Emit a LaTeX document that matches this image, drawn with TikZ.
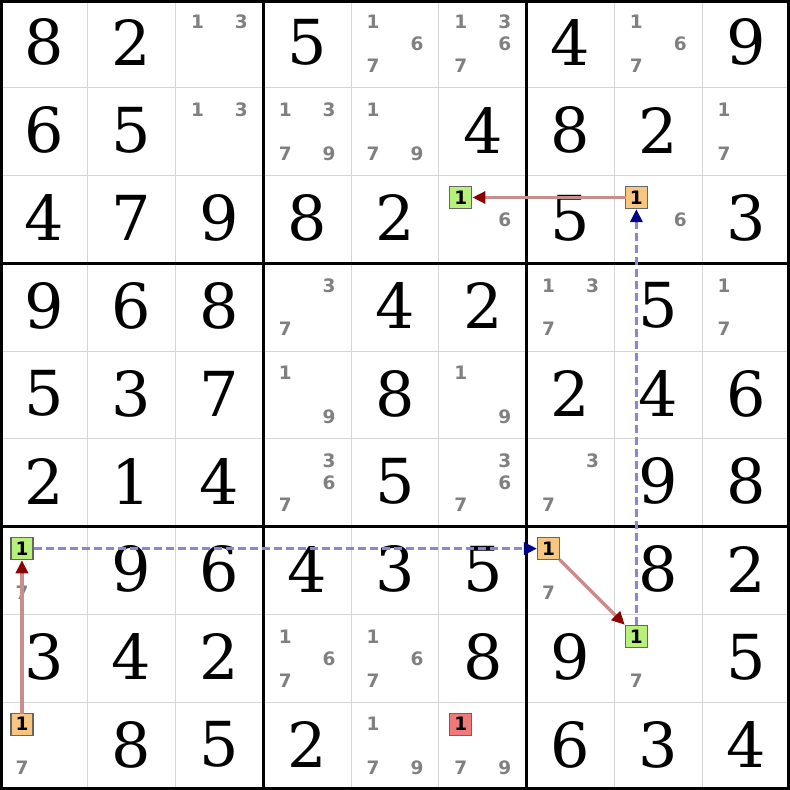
\documentclass[tikz,border=0pt]{standalone}
\usepackage{fontspec}
\usetikzlibrary{arrows.meta}
\newfontfamily\bigfont{DejaVu Serif}
\newfontfamily\candfont{DejaVu Sans}
\definecolor{gridgray}{HTML}{D4D4D4}
\definecolor{candgray}{HTML}{808080}
\definecolor{hgreen}{HTML}{B8F07C}
\definecolor{horange}{HTML}{F7C680}
\definecolor{hred}{HTML}{F07A7A}
\definecolor{boxedge}{HTML}{666666}
\definecolor{strongline}{HTML}{CB8C8C}
\definecolor{stronghead}{HTML}{8B0000}
\definecolor{weakline}{HTML}{8787D2}
\definecolor{weakhead}{HTML}{000088}
\pgfmathsetmacro\cellsz{790/9}
\newcommand\giv[3]{\node[given] (g#1#2) at ({(#2-0.5)*\cellsz},{(#1-0.5)*\cellsz-1.5}) {#3};}
\newcommand\candone[3]{%
  \pgfmathsetmacro\candx{(#2-1)*\cellsz+\cellsz/4*(1+mod(#3-1,3))}%
  \pgfmathsetmacro\candy{(#1-1)*\cellsz+\cellsz/4*(1+floor((#3-1)/3))}%
  \node[cand] (c#1#2#3) at (\candx,\candy) {#3};}
\newcommand\cands[3]{\foreach \dd in {#3}{\candone{#1}{#2}{\dd}}}
\newcommand\hcand[4]{%
  \pgfmathsetmacro\candx{(#2-1)*\cellsz+\cellsz/4*(1+mod(#3-1,3))}%
  \pgfmathsetmacro\candy{(#1-1)*\cellsz+\cellsz/4*(1+floor((#3-1)/3))}%
  \node[hbox,fill=#4] (c#1#2#3) at (\candx,\candy) {#3};}
\begin{document}
\begin{tikzpicture}[x=1pt,y=-1pt,
  given/.style={font=\bigfont\fontsize{62}{62}\selectfont, inner sep=0pt, anchor=center},
  cand/.style={font=\candfont\bfseries\fontsize{18.5}{18.5}\selectfont, text=candgray, inner sep=0pt, anchor=center},
  hbox/.style={font=\candfont\bfseries\fontsize{18.5}{18.5}\selectfont, text=black, draw=boxedge, line width=1.3pt, minimum size=22pt, inner sep=0pt, anchor=center},
  thingrid/.style={draw=gridgray, line width=1pt},
  thickgrid/.style={draw=black, line width=3pt},
  strong/.style={draw=strongline, line width=3.5pt, -{Triangle[length=13pt,width=12pt,color=stronghead]}, shorten <=-1pt},
  weak/.style={draw=weakline, line width=3.5pt, dash pattern=on 8pt off 4pt, -{Triangle[length=13pt,width=12pt,color=weakhead]}}
]
\useasboundingbox (0,0) rectangle (790,790);
\fill[white] (0,0) rectangle (790,790);
% thin grid
\foreach \i in {1,2,4,5,7,8}{
  \draw[thingrid] ({\i*\cellsz},0) -- ({\i*\cellsz},790);
  \draw[thingrid] (0,{\i*\cellsz}) -- (790,{\i*\cellsz});
}
% thick grid
\foreach \i in {3,6}{
  \draw[thickgrid] ({\i*\cellsz},0) -- ({\i*\cellsz},790);
  \draw[thickgrid] (0,{\i*\cellsz}) -- (790,{\i*\cellsz});
}
\draw[thickgrid] (1.5,1.5) rectangle (788.5,788.5);
% givens
\giv{1}{1}{8}\giv{1}{2}{2}\giv{1}{4}{5}\giv{1}{7}{4}\giv{1}{9}{9}
\giv{2}{1}{6}\giv{2}{2}{5}\giv{2}{6}{4}\giv{2}{7}{8}\giv{2}{8}{2}
\giv{3}{1}{4}\giv{3}{2}{7}\giv{3}{3}{9}\giv{3}{4}{8}\giv{3}{5}{2}\giv{3}{7}{5}\giv{3}{9}{3}
\giv{4}{1}{9}\giv{4}{2}{6}\giv{4}{3}{8}\giv{4}{5}{4}\giv{4}{6}{2}\giv{4}{8}{5}
\giv{5}{1}{5}\giv{5}{2}{3}\giv{5}{3}{7}\giv{5}{5}{8}\giv{5}{7}{2}\giv{5}{8}{4}\giv{5}{9}{6}
\giv{6}{1}{2}\giv{6}{2}{1}\giv{6}{3}{4}\giv{6}{5}{5}\giv{6}{8}{9}\giv{6}{9}{8}
\giv{7}{2}{9}\giv{7}{3}{6}\giv{7}{4}{4}\giv{7}{5}{3}\giv{7}{6}{5}\giv{7}{8}{8}\giv{7}{9}{2}
\giv{8}{1}{3}\giv{8}{2}{4}\giv{8}{3}{2}\giv{8}{6}{8}\giv{8}{7}{9}\giv{8}{9}{5}
\giv{9}{2}{8}\giv{9}{3}{5}\giv{9}{4}{2}\giv{9}{7}{6}\giv{9}{8}{3}\giv{9}{9}{4}
% candidates
\cands{1}{3}{1,3}
\cands{1}{5}{1,6,7}
\cands{1}{6}{1,3,6,7}
\cands{1}{8}{1,6,7}
\cands{2}{3}{1,3}
\cands{2}{4}{1,3,7,9}
\cands{2}{5}{1,7,9}
\cands{2}{9}{1,7}
\cands{3}{6}{6}
\cands{3}{8}{6}
\cands{4}{4}{3,7}
\cands{4}{7}{1,3,7}
\cands{4}{9}{1,7}
\cands{5}{4}{1,9}
\cands{5}{6}{1,9}
\cands{6}{4}{3,6,7}
\cands{6}{6}{3,6,7}
\cands{6}{7}{3,7}
\cands{7}{1}{7}
\cands{7}{7}{7}
\cands{8}{4}{1,6,7}
\cands{8}{5}{1,6,7}
\cands{8}{8}{7}
\cands{9}{1}{7}
\cands{9}{5}{1,7,9}
\cands{9}{6}{7,9}
% highlighted candidates
\hcand{3}{6}{1}{hgreen}
\hcand{3}{8}{1}{horange}
\hcand{7}{1}{1}{hgreen}
\hcand{7}{7}{1}{horange}
\hcand{8}{8}{1}{hgreen}
\hcand{9}{1}{1}{horange}
\hcand{9}{6}{1}{hred}
% chain links
\draw[strong] (c381) -- (c361);
\draw[weak] (c881) -- (c381);
\draw[weak] (c711) -- (c771);
\draw[strong] (c771) -- (c881);
\draw[strong] (c911) -- (c711);
\end{tikzpicture}
\end{document}
